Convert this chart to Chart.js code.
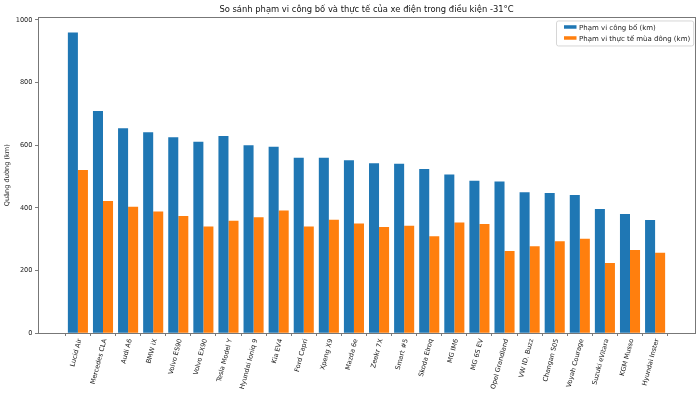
<!DOCTYPE html>
<html>
<head>
<meta charset="utf-8">
<script src="https://cdn.jsdelivr.net/npm/chart.js@4.4.1/dist/chart.umd.min.js"></script>
<style>
  html, body { margin: 0; padding: 0; background: #fff; }
  #wrap { width: 700px; height: 398px; }
</style>
</head>
<body>
<div id="wrap"><canvas id="rangeChart"></canvas></div>
<script>
// data
const models = ['Lucid Air', 'Mercedes CLA', 'Audi A6', 'BMW iX', 'Volvo ES90', 'Volvo EX90',
    'Tesla Model Y', 'Hyundai Ioniq 9', 'Kia EV4', 'Ford Capri', 'Xpeng X9', 'Mazda 6e',
    'Zeekr 7X', 'Smart #5', 'Skoda Elroq', 'MG IM6', 'MG 6S EV', 'Opel Grandland',
    'VW ID. Buzz', 'Changan S05', 'Voyah Courage', 'Suzuki eVitara', 'KGM Musso', 'Hyundai Inster'];
const claimedRange = [960, 709, 654, 641, 625, 611, 629, 600, 595, 560, 560, 552,
    542, 541, 524, 506, 486, 484, 450, 447, 441, 396, 380, 361];
const winterRange = [521, 422, 403, 388, 374, 340, 359, 370, 391, 340, 362, 350,
    339, 343, 309, 353, 348, 262, 277, 293, 301, 224, 265, 256];
const yTicks = [0, 200, 400, 600, 800, 1000];
const seriesNames = ['Phạm vi công bố (km)', 'Phạm vi thực tế mùa đông (km)'];
const seriesColors = ['#1f77b4', '#ff7f0e'];

const FONT = '"DejaVu Sans", "Noto Sans", sans-serif';
Chart.defaults.font.family = FONT;
Chart.defaults.color = '#222';

// matplotlib-style frame on all four sides
const frame = {
    id: 'frame',
    afterDatasetsDraw(chart) {
        const { ctx, chartArea: a } = chart;
        ctx.save();
        ctx.strokeStyle = '#777';
        ctx.lineWidth = 1;
        ctx.strokeRect(Math.round(a.left) + 0.5, Math.round(a.top) + 0.5,
            Math.round(a.right - a.left), Math.round(a.bottom - a.top));
        ctx.restore();
    }
};

// legend box in the upper right corner of the plot
const cornerLegend = {
    id: 'cornerLegend',
    afterDraw(chart) {
        const { ctx, chartArea: a } = chart;
        const fs = 7;
        ctx.save();
        ctx.font = fs + 'px ' + FONT;
        const sets = chart.data.datasets;
        const textW = Math.max(...sets.map(d => ctx.measureText(d.label).width));
        const padL = 8, padR = 3, handleW = 12.5, handleH = 3.5, gap = 2.5, rowH = 11;
        const w = padL + handleW + gap + textW + padR;
        const h = 25;
        const right = a.right - 2;
        const top = a.top + 3;
        const left = Math.round(right - w);
        ctx.beginPath();
        ctx.roundRect(left + 0.5, top + 0.5, w, h, 2);
        ctx.fillStyle = 'rgba(255,255,255,0.8)';
        ctx.fill();
        ctx.strokeStyle = '#d6d6d6';
        ctx.lineWidth = 1;
        ctx.stroke();
        ctx.textBaseline = 'middle';
        sets.forEach((d, i) => {
            const cy = top + 7 + i * rowH;
            ctx.fillStyle = d.backgroundColor;
            ctx.fillRect(left + padL, cy - handleH / 2 - 0.5, handleW, handleH);
            ctx.fillStyle = '#222';
            ctx.fillText(d.label, left + padL + handleW + gap, cy + 0.5);
        });
        ctx.restore();
    }
};

const chart = new Chart(document.getElementById('rangeChart'), {
    type: 'bar',
    data: {
        datasets: [
            {
                label: seriesNames[0],
                data: claimedRange.map((v, i) => ({ x: i, y: v })),
                backgroundColor: seriesColors[0],
            },
            {
                label: seriesNames[1],
                data: winterRange.map((v, i) => ({ x: i, y: v })),
                backgroundColor: seriesColors[1],
            },
        ],
    },
    options: {
        responsive: true,
        maintainAspectRatio: false,
        animation: false,
        layout: { padding: { left: 0, right: 5, top: 0, bottom: 0 } },
        datasets: {
            bar: { categoryPercentage: 0.8, barPercentage: 1.0, borderWidth: 0 }
        },
        plugins: {
            legend: { display: false },
            tooltip: { enabled: false },
            title: {
                display: true,
                fullSize: false,
                text: 'So sánh phạm vi công bố và thực tế của xe điện trong điều kiện -31°C',
                color: '#111',
                font: { size: 8.4, weight: 'normal' },
                padding: { top: 5, bottom: 2.4 },
            },
        },
        scales: {
            x: {
                type: 'linear',
                min: -1.59,
                max: 24.59,
                offset: false,
                afterBuildTicks: axis => { axis.ticks = models.map((m, i) => ({ value: i })); },
                afterFit: axis => { axis.height = 65; },
                ticks: {
                    autoSkip: false,
                    minRotation: 75,
                    maxRotation: 75,
                    padding: 2,
                    labelOffset: 2,
                    font: { size: 6.6 },
                    callback: v => models[v] ?? '',
                },
                grid: { drawOnChartArea: false, drawTicks: true, tickLength: 3, color: '#444', lineWidth: 0.7 },
                border: { display: false },
            },
            y: {
                min: 0,
                max: 1008,
                afterBuildTicks: axis => { axis.ticks = yTicks.map(v => ({ value: v })); },
                afterFit: axis => { axis.width = 38; },
                ticks: { padding: 2.5, font: { size: 6.6 }, callback: v => String(v) },
                grid: { drawOnChartArea: false, drawTicks: true, tickLength: 3, color: '#444', lineWidth: 0.7 },
                border: { display: false },
                title: {
                    display: true,
                    text: 'Quãng đường (km)',
                    font: { size: 6.6 },
                    padding: { top: 3, bottom: 0 },
                },
            },
        },
    },
    plugins: [frame, cornerLegend],
});
</script>
</body>
</html>
